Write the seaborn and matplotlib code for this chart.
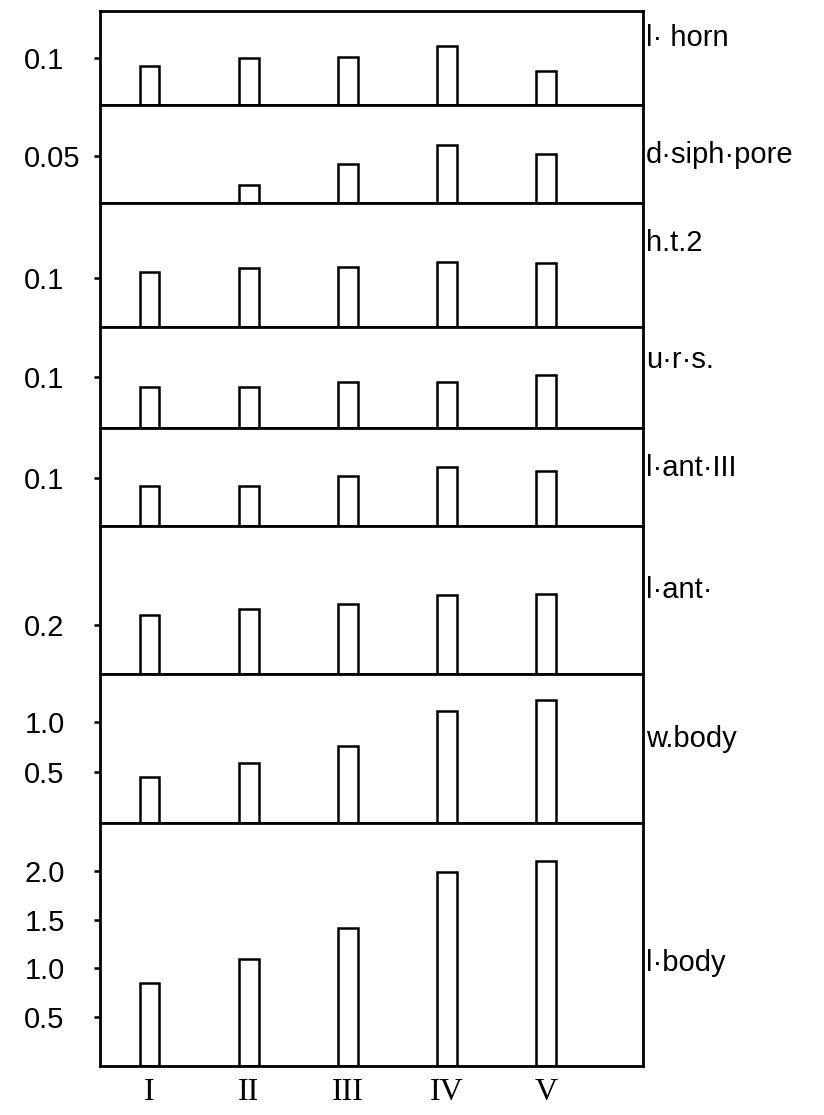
import numpy as np
import pandas as pd
import matplotlib
matplotlib.use("Agg")
import matplotlib.pyplot as plt
import seaborn as sns

# stages (instars) along the x axis
stages = ["I", "II", "III", "IV", "V"]

l_horn = [0.082, 0.101, 0.102, 0.125, 0.073]
d_siph_pore = [np.nan, 0.0195, 0.041, 0.061, 0.052]
h_t_2 = [0.112, 0.121, 0.123, 0.133, 0.132]
u_r_s = [0.079, 0.080, 0.090, 0.089, 0.103]
l_ant_3 = [0.083, 0.083, 0.103, 0.123, 0.113]
l_ant = [0.241, 0.264, 0.284, 0.322, 0.325]
w_body = [0.457, 0.590, 0.757, 1.107, 1.213]
l_body = [0.854, 1.100, 1.410, 1.990, 2.100]

trait_names = ["l· horn", "d·siph·pore", "h.t.2", "u·r·s.", "l·ant·III",
               "l·ant·", "w.body", "l·body"]
trait_values = [l_horn, d_siph_pore, h_t_2, u_r_s, l_ant_3, l_ant, w_body, l_body]

# y ticks shown on each panel
tick_values = [[0.1], [0.05], [0.1], [0.1], [0.1], [0.2], [0.5, 1.0], [0.5, 1.0, 1.5, 2.0]]
tick_labels = [["0.1"], ["0.05"], ["0.1"], ["0.1"], ["0.1"], ["0.2"],
               ["0.5", "1.0"], ["0.5", "1.0", "1.5", "2.0"]]

# panel scale tops and layout (pixels)
y_tops = [0.2, 0.1035, 0.254, 0.197, 0.203, 0.604, 1.47, 2.49]
W, H = 824, 1115
x_left, x_right = 100, 643
edges = [11, 105, 203, 327, 428, 526, 674, 823, 1066]
name_y = [38, 155, 243, 360, 468, 590, 739, 963]

sns.set_theme(style="white")
plt.rcParams["font.family"] = ["Liberation Sans Narrow", "Liberation Sans", "DejaVu Sans"]
plt.rcParams["text.color"] = "black"

fig = plt.figure(figsize=(W / 100, H / 100), dpi=100)
fig.patch.set_facecolor("white")

for i, (name, vals) in enumerate(zip(trait_names, trait_values)):
    top, bot = edges[i], edges[i + 1]
    ax = fig.add_axes([x_left / W, 1 - bot / H, (x_right - x_left) / W, (bot - top) / H])
    df = pd.DataFrame({"stage": stages, "value": vals})
    sns.barplot(data=df, x="stage", y="value", order=stages, color="white",
                saturation=1, edgecolor="black", linewidth=1.8, width=0.2,
                errorbar=None, ax=ax)
    ax.set_xlim(-0.5, 4.98)
    ax.set_ylim(0, y_tops[i])
    ax.set_xlabel("")
    ax.set_ylabel("")
    ax.set_facecolor("white")
    for sp in ax.spines.values():
        sp.set_visible(True)
        sp.set_color("black")
        sp.set_linewidth(2.0)

    ax.set_yticks(tick_values[i])
    ax.set_yticklabels(tick_labels[i], fontsize=21)
    ax.tick_params(axis="y", left=True, length=4.5, width=1.8, pad=50, colors="black")
    for lab in ax.get_yticklabels():
        lab.set_ha("left")

    if i == len(trait_names) - 1:
        ax.set_xticks(range(len(stages)))
        ax.set_xticklabels(stages, fontsize=23, family=["Liberation Serif", "DejaVu Serif"])
        ax.tick_params(axis="x", bottom=False, length=0, pad=9, colors="black")
    else:
        ax.tick_params(axis="x", bottom=False, labelbottom=False)

    fig.text(646 / W, 1 - name_y[i] / H, name, fontsize=21, color="black",
             ha="left", va="center")

fig.savefig("out.png", dpi=100, facecolor="white")
